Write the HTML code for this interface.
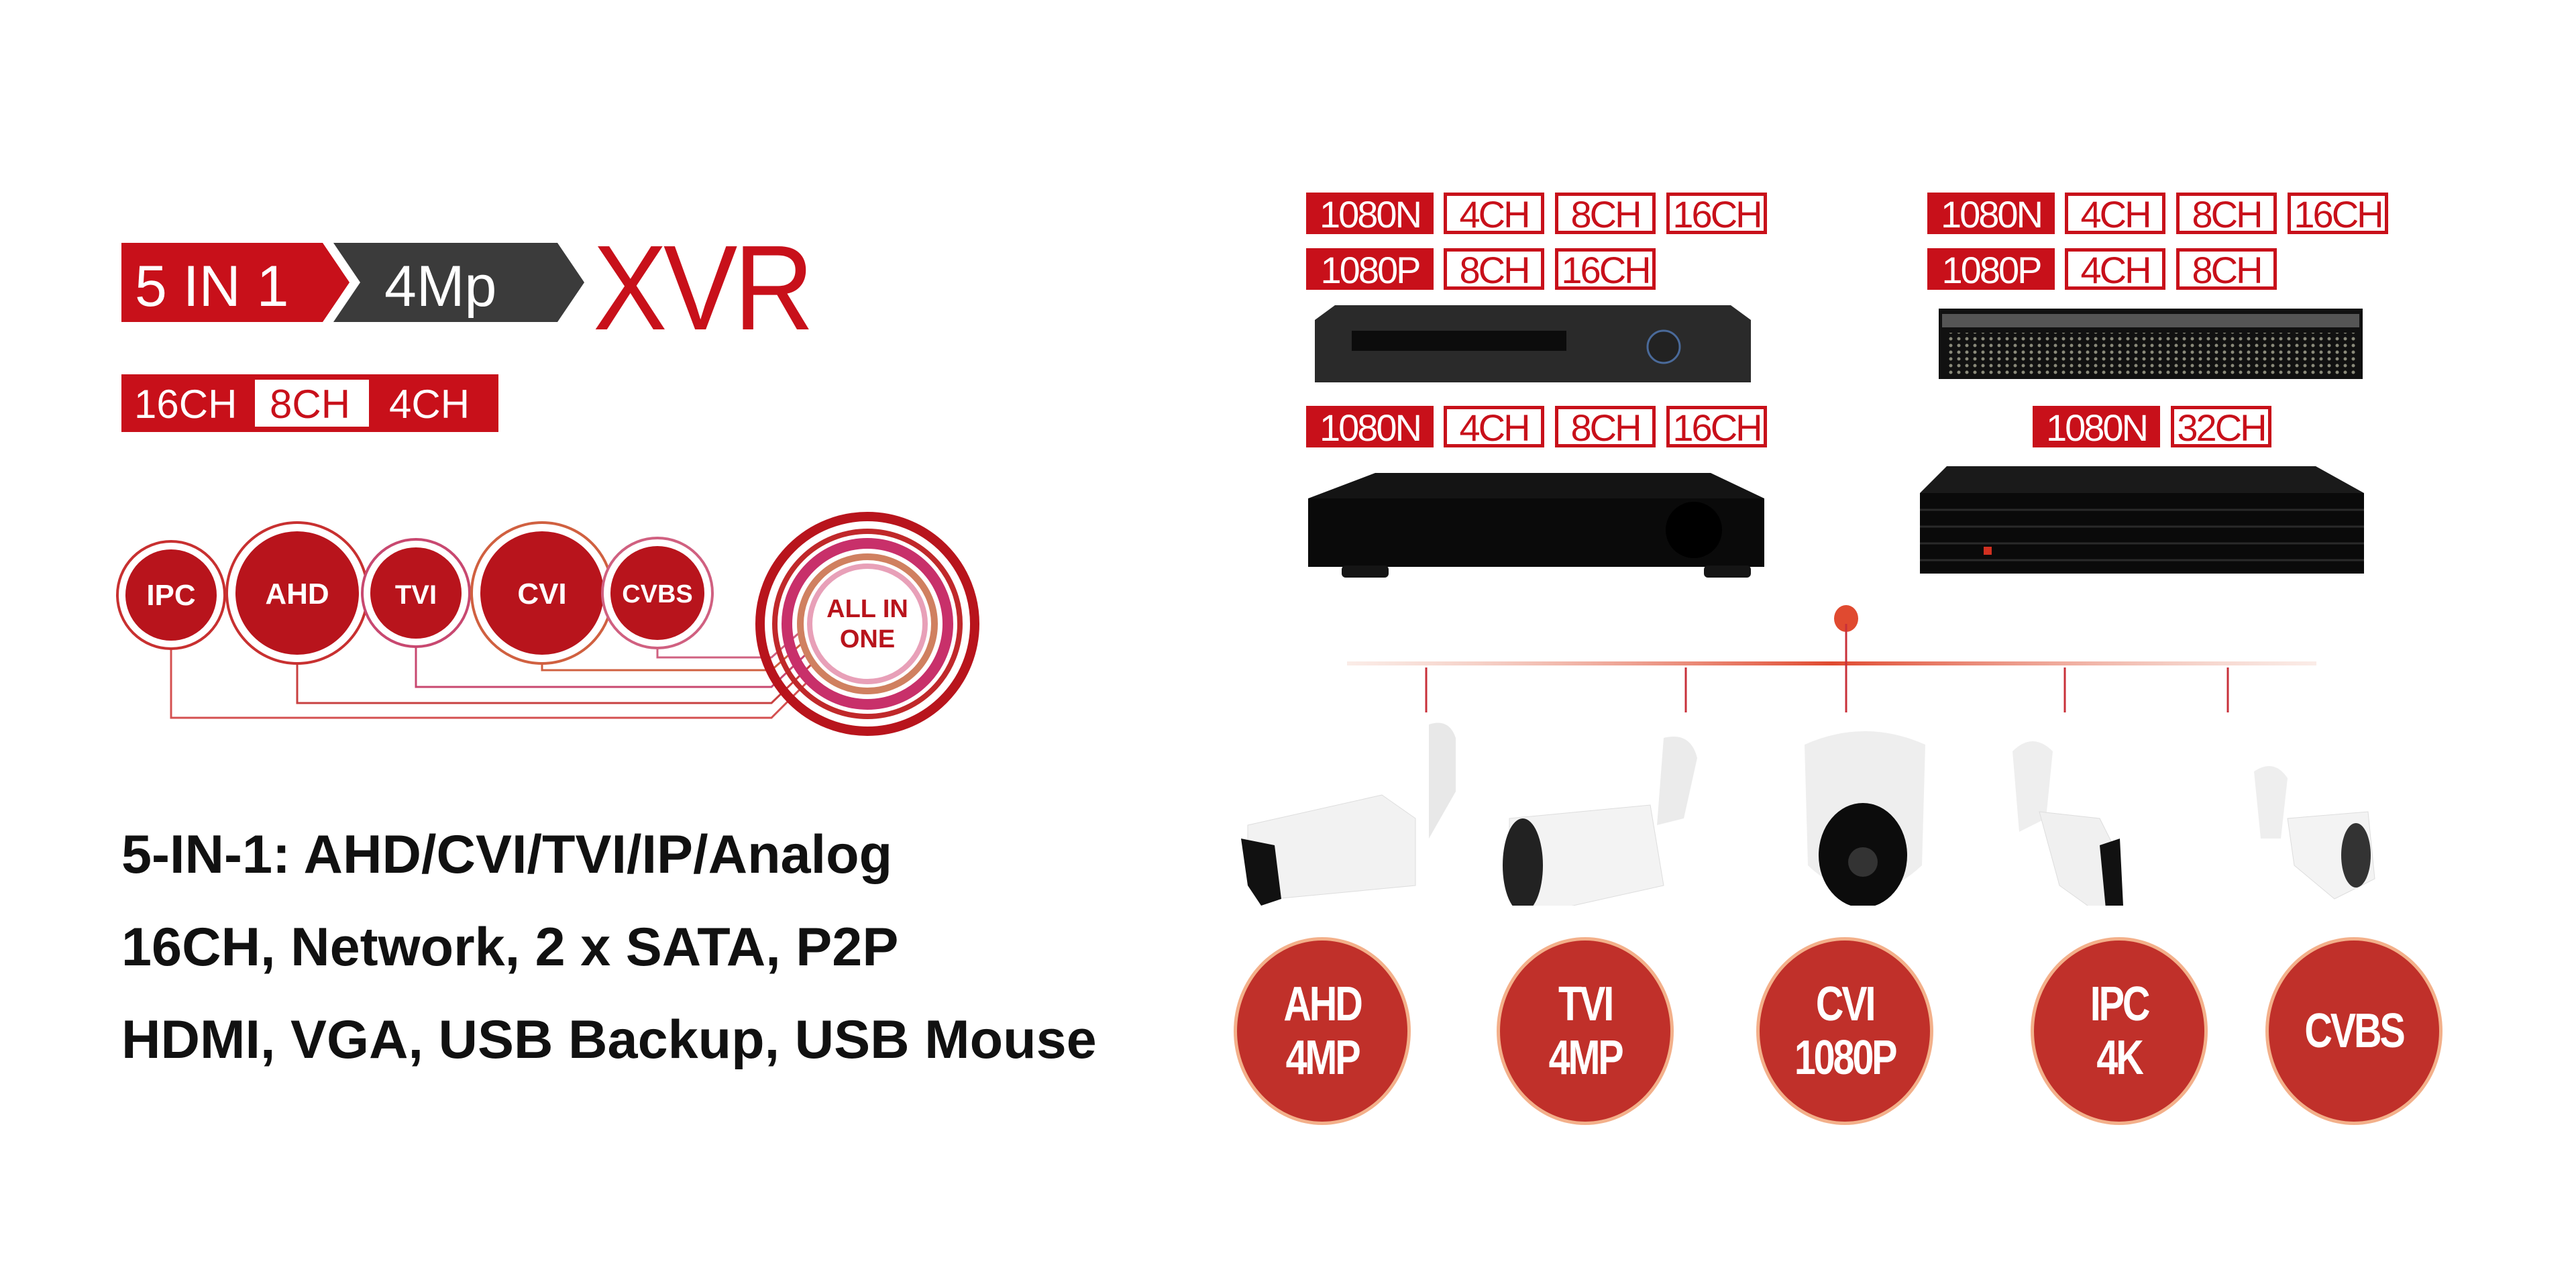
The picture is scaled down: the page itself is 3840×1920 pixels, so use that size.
<!DOCTYPE html>
<html><head><meta charset="utf-8"><style>
*{margin:0;padding:0;box-sizing:border-box}
body{width:3840px;height:1920px;background:#fff;position:relative;overflow:hidden;font-family:"Liberation Sans",sans-serif}
.a{position:absolute}
.tag{position:absolute;height:62px;font-size:56px;line-height:56px;text-align:center;color:#c8101a;border:5px solid #c8101a;background:#fff;letter-spacing:-3px;font-family:"Liberation Sans Narrow","Liberation Sans",sans-serif}
.tag.f{background:#c8101a;color:#fff}
.feat{position:absolute;left:181px;font-size:81px;font-weight:bold;color:#111;white-space:nowrap}
.rc{position:absolute;width:254px;height:270px;border-radius:50%;background:#c0302a;box-shadow:0 0 0 5px #f3b08a;color:#fff;font-weight:bold;font-size:72px;line-height:80px;text-align:center;display:flex;align-items:center;justify-content:center;letter-spacing:-4px}
.rc span{display:inline-block;transform:scaleX(.8)}
</style></head><body>

<svg class="a" style="left:181px;top:362px" width="720" height="120">
<polygon points="0,0 300,0 340,59 300,118 0,118" fill="#c8101a"/>
<polygon points="316,0 650,0 690,59 650,118 316,118 356,59" fill="#3b3b3b"/>
<text x="20" y="94" font-family="Liberation Sans" font-size="86" fill="#fff">5 IN 1</text>
<text x="392" y="94" font-family="Liberation Sans" font-size="86" fill="#fff">4Mp</text>
</svg>
<div class="a" style="left:884px;top:340px;font-size:180px;color:#c8101a;line-height:180px;letter-spacing:-6px;transform:scaleX(.92);transform-origin:left">XVR</div>

<div class="a" style="left:181px;top:558px;width:562px;height:86px;background:#c8101a"></div>
<div class="a" style="left:380px;top:566px;width:170px;height:70px;background:#fff"></div>
<div class="a" style="left:200px;top:568px;font-size:60px;color:#fff">16CH</div>
<div class="a" style="left:402px;top:568px;font-size:60px;color:#c8101a">8CH</div>
<div class="a" style="left:580px;top:568px;font-size:60px;color:#fff">4CH</div>

<svg class="a" style="left:150px;top:740px" width="1350" height="380">
<g fill="none" stroke-width="3">
<path d="M105,140 V330 H1000 L1060,270" stroke="#d45050"/>
<path d="M293,145 V308 H1000 L1060,250" stroke="#c84040"/>
<path d="M470,140 V284 H1000 L1055,232" stroke="#c84870"/>
<path d="M658,145 V259 H1000 L1050,215" stroke="#d06040"/>
<path d="M830,140 V240 H1000 L1045,200" stroke="#d06080"/>
</g>
<g>
<circle cx="105" cy="147" r="80" fill="#fff" stroke="#c83030" stroke-width="4"/><circle cx="105" cy="147" r="68" fill="#b8141c"/>
<circle cx="293" cy="144" r="105" fill="#fff" stroke="#c83030" stroke-width="4"/><circle cx="293" cy="144" r="92" fill="#b8141c"/>
<circle cx="470" cy="144" r="80" fill="#fff" stroke="#c84870" stroke-width="4"/><circle cx="470" cy="144" r="68" fill="#b8141c"/>
<circle cx="658" cy="144" r="105" fill="#fff" stroke="#d06040" stroke-width="4"/><circle cx="658" cy="144" r="92" fill="#b8141c"/>
<circle cx="830" cy="144" r="82" fill="#fff" stroke="#d06080" stroke-width="4"/><circle cx="830" cy="144" r="70" fill="#b8141c"/>
</g>
<g font-family="Liberation Sans" font-weight="bold" fill="#fff" text-anchor="middle" font-size="44">
<text x="105" y="162">IPC</text><text x="293" y="160">AHD</text><text x="470" y="160" font-size="40">TVI</text><text x="658" y="160">CVI</text><text x="830" y="158" font-size="38">CVBS</text>
</g>
<g fill="none">
<circle cx="1143" cy="190" r="160" stroke="#b8141c" stroke-width="14"/>
<circle cx="1143" cy="190" r="138" stroke="#c0282a" stroke-width="8"/>
<circle cx="1143" cy="190" r="120" stroke="#c8306a" stroke-width="16"/>
<circle cx="1143" cy="190" r="100" stroke="#d08060" stroke-width="10"/>
<circle cx="1143" cy="190" r="86" stroke="#e8a0b8" stroke-width="8"/>
</g>
<circle cx="1143" cy="190" r="76" fill="#fff"/>
<g font-family="Liberation Sans" font-weight="bold" fill="#b8141c" text-anchor="middle" font-size="38">
<text x="1143" y="180">ALL IN</text><text x="1143" y="225">ONE</text></g>
</svg>

<div class="feat" style="top:1228px">5-IN-1: AHD/CVI/TVI/IP/Analog</div>
<div class="feat" style="top:1366px">16CH, Network, 2 x SATA, P2P</div>
<div class="feat" style="top:1504px">HDMI, VGA, USB Backup, USB Mouse</div>

<div class="tag f" style="left:1947px;top:287px;width:190px">1080N</div>
<div class="tag" style="left:2152px;top:287px;width:150px">4CH</div>
<div class="tag" style="left:2318px;top:287px;width:150px">8CH</div>
<div class="tag" style="left:2484px;top:287px;width:150px">16CH</div>
<div class="tag f" style="left:1947px;top:370px;width:190px">1080P</div>
<div class="tag" style="left:2152px;top:370px;width:150px">8CH</div>
<div class="tag" style="left:2318px;top:370px;width:150px">16CH</div>

<div class="tag f" style="left:2873px;top:287px;width:190px">1080N</div>
<div class="tag" style="left:3078px;top:287px;width:150px">4CH</div>
<div class="tag" style="left:3244px;top:287px;width:150px">8CH</div>
<div class="tag" style="left:3410px;top:287px;width:150px">16CH</div>
<div class="tag f" style="left:2873px;top:370px;width:190px">1080P</div>
<div class="tag" style="left:3078px;top:370px;width:150px">4CH</div>
<div class="tag" style="left:3244px;top:370px;width:150px">8CH</div>

<div class="tag f" style="left:1947px;top:605px;width:190px">1080N</div>
<div class="tag" style="left:2152px;top:605px;width:150px">4CH</div>
<div class="tag" style="left:2318px;top:605px;width:150px">8CH</div>
<div class="tag" style="left:2484px;top:605px;width:150px">16CH</div>
<div class="tag f" style="left:3030px;top:605px;width:190px">1080N</div>
<div class="tag" style="left:3236px;top:605px;width:150px">32CH</div>

<svg class="a" style="left:1960px;top:455px" width="660" height="120">
<polygon points="30,0 620,0 650,22 650,115 0,115 0,22" fill="#2a2a2a"/>
<rect x="55" y="38" width="320" height="30" fill="#0c0c0c"/>
<circle cx="520" cy="62" r="24" fill="#222" stroke="#4a6a9a" stroke-width="3"/>
</svg>
<svg class="a" style="left:2890px;top:460px" width="640" height="110">
<defs><pattern id="dots" width="12" height="10" patternUnits="userSpaceOnUse"><rect width="12" height="10" fill="#111"/><circle cx="6" cy="5" r="2.5" fill="#8a8a7a"/></pattern></defs>
<rect x="0" y="0" width="632" height="105" fill="#111"/>
<rect x="5" y="8" width="622" height="20" fill="#555"/>
<rect x="10" y="36" width="612" height="62" fill="url(#dots)"/>
</svg>
<svg class="a" style="left:1950px;top:705px" width="690" height="160">
<polygon points="100,0 600,0 680,38 680,140 0,140 0,38" fill="#141414"/>
<rect x="0" y="38" width="680" height="102" fill="#0a0a0a"/>
<circle cx="575" cy="85" r="42" fill="#000"/>
<rect x="50" y="138" width="70" height="18" rx="6" fill="#151515"/><rect x="590" y="138" width="70" height="18" rx="6" fill="#151515"/>
</svg>
<svg class="a" style="left:2862px;top:695px" width="670" height="170">
<polygon points="40,0 590,0 662,40 662,160 0,160 0,40" fill="#1a1a1a"/>
<rect x="0" y="40" width="662" height="120" fill="#0a0a0a"/>
<g stroke="#2a2a2a" stroke-width="3"><line x1="0" y1="65" x2="662" y2="65"/><line x1="0" y1="90" x2="662" y2="90"/><line x1="0" y1="115" x2="662" y2="115"/><line x1="0" y1="140" x2="662" y2="140"/></g>
<rect x="95" y="120" width="12" height="12" fill="#d03020"/>
</svg>

<svg class="a" style="left:0;top:0" width="3840" height="1920">
<defs><linearGradient id="hl" x1="0" x2="1"><stop offset="0" stop-color="#f0c0b0" stop-opacity=".3"/><stop offset=".5" stop-color="#e04a30"/><stop offset="1" stop-color="#f0c0b0" stop-opacity=".3"/></linearGradient></defs>
<rect x="2008" y="986" width="1445" height="6" fill="url(#hl)"/>
<ellipse cx="2752" cy="922" rx="18" ry="20" fill="#e04a30"/>
<g stroke="#c8303a" stroke-width="3">
<line x1="2752" y1="930" x2="2752" y2="1062"/>
<line x1="2126" y1="995" x2="2126" y2="1062"/>
<line x1="2513" y1="995" x2="2513" y2="1062"/>
<line x1="3078" y1="995" x2="3078" y2="1062"/>
<line x1="3321" y1="995" x2="3321" y2="1062"/>
</g>
</svg>

<svg class="a" style="left:1840px;top:1060px" width="1840" height="290">
<path d="M290,20 q30,-10 40,20 l0,80 -40,70 z" fill="#e8e8e8"/>
<polygon points="20,170 220,125 270,160 270,260 60,280 20,240" fill="#f2f2f2" stroke="#ddd"/>
<polygon points="10,190 60,200 70,280 40,290 20,260" fill="#111"/>
<path d="M640,40 q40,-10 50,30 l-20,90 -40,10 z" fill="#ebebeb"/>
<polygon points="410,160 620,140 640,260 460,300 410,260" fill="#f3f3f3" stroke="#ddd"/>
<ellipse cx="430" cy="230" rx="30" ry="70" fill="#222"/>
<path d="M850,50 q90,-40 180,0 l-5,180 q-85,80 -170,0 z" fill="#eeeeee"/>
<ellipse cx="937" cy="215" rx="66" ry="78" fill="#0c0c0c"/>
<circle cx="937" cy="225" r="22" fill="#333"/>
<path d="M1160,60 q30,-30 60,0 l-10,100 -40,20 z" fill="#eee"/>
<polygon points="1200,150 1290,160 1320,220 1300,310 1230,260" fill="#f0f0f0" stroke="#ddd"/>
<polygon points="1290,200 1320,190 1325,290 1300,305" fill="#111"/>
<path d="M1520,90 q30,-20 50,10 l-10,90 -30,0 z" fill="#eee"/>
<polygon points="1570,160 1690,150 1700,250 1640,280 1580,230" fill="#f3f3f3" stroke="#ddd"/>
<ellipse cx="1672" cy="215" rx="22" ry="48" fill="#333"/>
</svg>

<div class="rc" style="left:1844px;top:1402px"><span>AHD<br>4MP</span></div>
<div class="rc" style="left:2236px;top:1402px"><span>TVI<br>4MP</span></div>
<div class="rc" style="left:2623px;top:1402px"><span>CVI<br>1080P</span></div>
<div class="rc" style="left:3032px;top:1402px"><span>IPC<br>4K</span></div>
<div class="rc" style="left:3382px;top:1402px"><span>CVBS</span></div>
</body></html>
